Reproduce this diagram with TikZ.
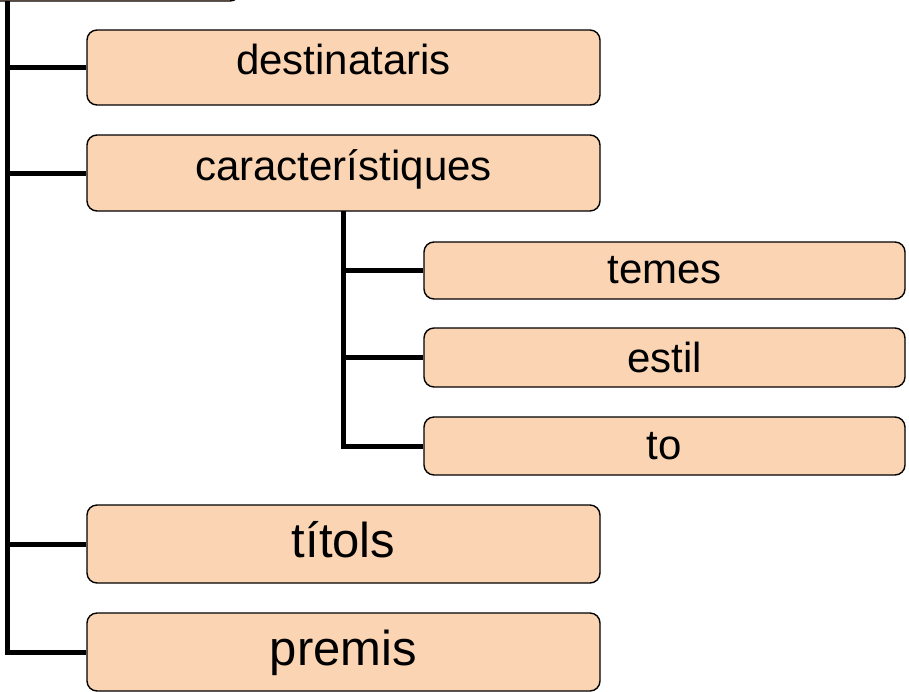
\documentclass[tikz,border=0pt]{standalone}
\usepackage{fontspec}
\setmainfont{Liberation Sans}
\definecolor{peach}{HTML}{FAD4B3}
\tikzset{
  box/.style={draw=black, line width=1.4pt, fill=peach, rounded corners=10pt,
    inner sep=0pt, text=black},
  wide/.style={box, minimum width=513pt},
  narrow/.style={box, minimum width=481pt, font=\fontsize{42}{48}\selectfont},
  small/.style={font=\fontsize{42}{48}\selectfont, text height=31pt, text depth=17pt},
  big/.style={font=\fontsize{49}{56}\selectfont, text height=36pt, text depth=10pt},
  conn/.style={line width=5pt}
}
\begin{document}
\begin{tikzpicture}[x=1pt, y=-1pt]
      \useasboundingbox (0,0) rectangle (909,691);
      \clip (0,0) rectangle (909,691);
      \draw
        (70,-40) node[box, minimum width=340pt, minimum height=82pt] (root){}
        (343.5,67.5) node[wide, small, minimum height=75pt] (destinataris){destinataris}
        (343.5,173) node[wide, small, minimum height=76pt] (caracteristiques){característiques}
        (664.5,270.5) node[narrow, minimum height=57pt] (temes){temes}
        (664.5,357.5) node[narrow, minimum height=59pt] (estil){estil}
        (664.5,446) node[narrow, minimum height=58pt] (to){to}
        (343.5,544) node[wide, big, minimum height=78pt] (titols){títols}
        (343.5,652) node[wide, big, minimum height=78pt] (premis){premis};
      \coordinate (trunk) at (7,1);
      \coordinate (branch) at (343,211);
      \begin{scope}[conn]
        \draw (trunk) |- (premis.west);
        \draw (trunk |- destinataris.west) -- (destinataris.west);
        \draw (trunk |- caracteristiques.west) -- (caracteristiques.west);
        \draw (trunk |- titols.west) -- (titols.west);
        \draw (branch) |- (to.west);
        \draw (branch |- temes.west) -- (temes.west);
        \draw (branch |- estil.west) -- (estil.west);
      \end{scope}
    \end{tikzpicture}
\end{document}
